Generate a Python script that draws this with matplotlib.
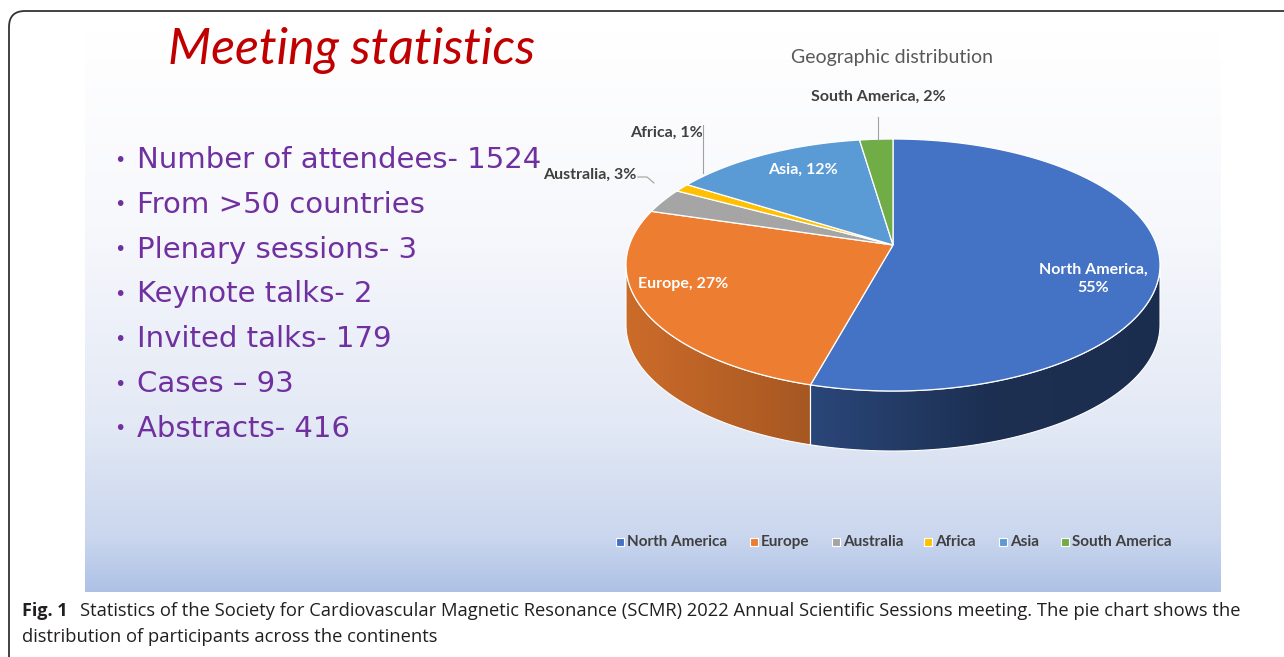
"""Recreate the SCMR 2022 meeting statistics slide with a 3D-style pie."""

import numpy as np
import matplotlib

matplotlib.use("Agg")
import matplotlib.pyplot as plt
from matplotlib.colors import LinearSegmentedColormap, to_rgb
from matplotlib.patches import FancyBboxPatch, Polygon, Rectangle

# ---- data -------------------------------------------------------------
continents = ["North America", "Europe", "Australia", "Africa", "Asia", "South America"]
shares = [55, 27, 3, 1, 12, 2]
slice_colors = ["#4472c4", "#ed7d31", "#a5a5a5", "#ffc000", "#5b9bd5", "#70ad47"]

bullets = [
    "Number of attendees- 1524",
    "From >50 countries",
    "Plenary sessions- 3",
    "Keynote talks- 2",
    "Invited talks- 179",
    "Cases \u2013 93",
    "Abstracts- 416",
]

caption_bold = "Fig. 1"
caption_text = ("Statistics of the Society for Cardiovascular Magnetic Resonance (SCMR) 2022 "
                "Annual Scientific Sessions meeting. The pie chart shows the")
caption_line2 = "distribution of participants across the continents"

W, H = 1284, 657
fig = plt.figure(figsize=(W / 100, H / 100), dpi=100)
ax = fig.add_axes([0, 0, 1, 1])
ax.set_xlim(0, W)
ax.set_ylim(H, 0)
ax.axis("off")

# outer rounded frame
ax.add_patch(FancyBboxPatch((9, 11), 1400, 700, boxstyle="round,pad=0,rounding_size=16",
                            fc="white", ec="#333333", lw=1.3, zorder=0))

# slide background gradient
sx0, sx1, sy0, sy1 = 85, 1221, 31, 592
grad_cmap = LinearSegmentedColormap.from_list(
    "bg", [(0, "#ffffff"), (0.35, "#f7f8fc"), (0.7, "#e3e9f5"), (0.9, "#cbd7ee"), (1.0, "#aec2e6")])
g = np.linspace(0, 1, 256).reshape(-1, 1)
ax.imshow(g, cmap=grad_cmap, extent=(sx0, sx1, sy1, sy0), aspect="auto", zorder=1,
          interpolation="bilinear")

# title and bullets
ax.text(352, 50, "Meeting statistics", color="#c00000", fontsize=36, family="Lato",
        style="italic", ha="center", va="center", zorder=3)
for i, item in enumerate(bullets):
    y = 160 + i * 44.8
    ax.text(114, y, "\u2022", color="#7030a0", fontsize=14, ha="left", va="center", zorder=3)
    ax.text(137, y, item, color="#7030a0", fontsize=21, family="DejaVu Sans",
            ha="left", va="center", zorder=3)

# ---- 3D-looking pie ---------------------------------------------------
cx, cy, rx, ry, depth = 893, 265, 267, 126, 60
apex = (893, 245)


def rim(theta_deg, drop=0.0):
    t = np.radians(theta_deg)
    return np.column_stack([cx + rx * np.cos(t), cy - ry * np.sin(t) + drop])


def shade(color, k):
    return tuple(c * k for c in to_rgb(color))


bounds = []
start = 90.0
for s in shares:
    end = start - 360.0 * s / sum(shares)
    bounds.append((start, end))
    start = end

# side walls (front half only)
for (a0, a1), col in zip(bounds, slice_colors):
    lo, hi = max(a1, -180.0), min(a0, 0.0)
    if lo >= hi:
        continue
    th = np.linspace(hi, lo, 120)
    top = rim(th)
    bot = rim(th[::-1], depth)
    poly = Polygon(np.vstack([top, bot]), closed=True, fc="none", ec="white", lw=0.8, zorder=4)
    ax.add_patch(poly)
    xs = np.concatenate([top[:, 0], bot[:, 0]])
    ys = np.concatenate([top[:, 1], bot[:, 1]])
    if col == slice_colors[0]:
        side_cmap = LinearSegmentedColormap.from_list("s", [shade(col, 0.62), shade(col, 0.42),
                                                             shade(col, 0.40)])
    else:
        side_cmap = LinearSegmentedColormap.from_list("s", [shade(col, 0.86), shade(col, 0.7)])
    im = ax.imshow(np.linspace(0, 1, 256).reshape(1, -1), cmap=side_cmap,
                   extent=(xs.min(), xs.max(), ys.max(), ys.min()), aspect="auto", zorder=3.5)
    im.set_clip_path(poly)

# top faces
for (a0, a1), col in zip(bounds, slice_colors):
    th = np.linspace(a0, a1, 200)
    pts = np.vstack([[apex], rim(th)])
    ax.add_patch(Polygon(pts, closed=True, fc=col, ec="white", lw=0.9, zorder=5))

# labels
lbl = dict(fontsize=11.5, family="Lato", weight="bold", zorder=6)
ax.text(1093, 279, "North America,\n55%", color="white", ha="center", va="center",
        linespacing=1.35, **lbl)
ax.text(683, 284, "Europe, 27%", color="white", ha="center", va="center", **lbl)
ax.text(803, 170, "Asia, 12%", color="white", ha="center", va="center", **lbl)
ax.text(636, 175, "Australia, 3%", color="#404040", ha="right", va="center", **lbl)
ax.text(666, 133, "Africa, 1%", color="#404040", ha="center", va="center", **lbl)
ax.text(878, 97, "South America, 2%", color="#404040", ha="center", va="center", **lbl)
ax.plot([638, 647, 654], [177, 177, 183], color="#a0a0a0", lw=0.8, zorder=6)
ax.plot([703, 703], [125, 173], color="#a0a0a0", lw=0.8, zorder=6)
ax.plot([878, 878], [117, 140], color="#a0a0a0", lw=0.8, zorder=6)

ax.text(892, 57, "Geographic distribution", color="#595959", fontsize=14, family="Lato",
        ha="center", va="center", zorder=6)

# legend
leg_x = [620, 754, 836, 928, 1003, 1065]
for x, name, col in zip(leg_x, continents, slice_colors):
    ax.add_patch(Rectangle((x - 4, 538), 8, 8, fc=col, ec="white", lw=0.8, zorder=6))
    ax.text(x + 7, 542, name, color="#404040", fontsize=11, family="Lato", weight="bold",
            ha="left", va="center", zorder=6)

# caption
ax.text(22, 611, caption_bold, fontsize=13, family="Open Sans", weight="bold",
        ha="left", va="center", color="#231f20", zorder=6)
ax.text(80, 611, caption_text, fontsize=13.2, family="Open Sans",
        ha="left", va="center", color="#231f20", zorder=6)
ax.text(22, 637, caption_line2, fontsize=13.2, family="Open Sans",
        ha="left", va="center", color="#231f20", zorder=6)

fig.savefig("out.png", dpi=100)
